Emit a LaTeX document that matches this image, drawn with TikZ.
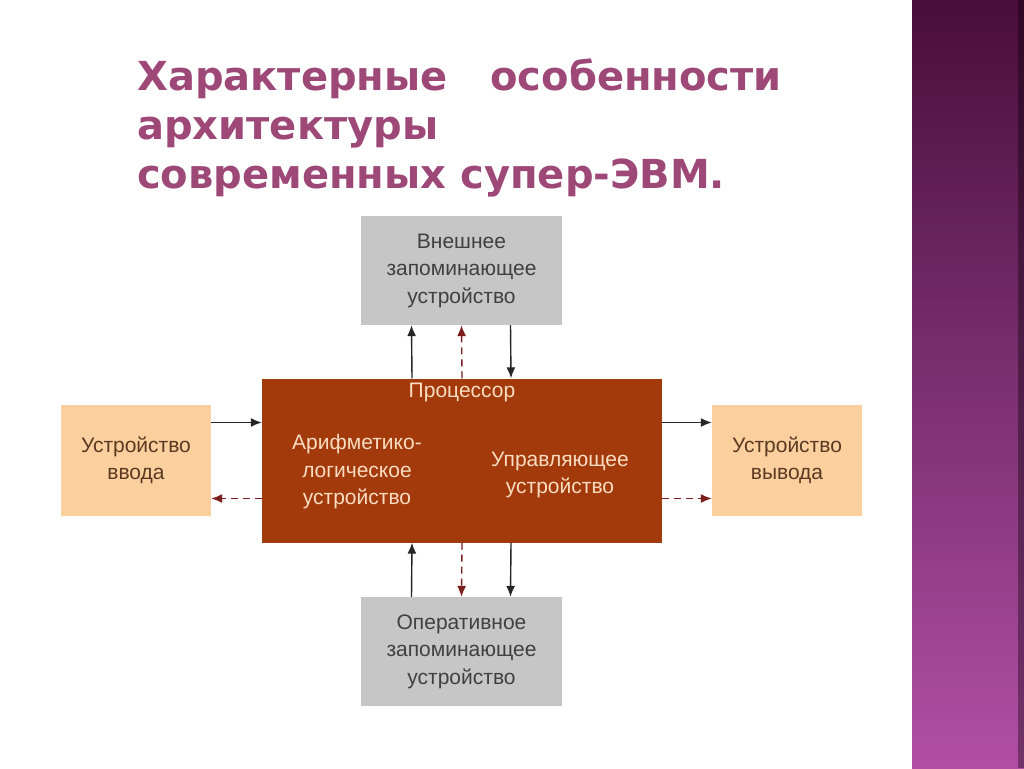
\documentclass[tikz,border=0pt]{standalone}
\usepackage{fontspec}
\setmainfont{Liberation Sans}
\newfontfamily\titlefont{DejaVu Sans}
\usetikzlibrary{arrows.meta}
\definecolor{titlecol}{HTML}{9E4878}
\definecolor{graybox}{HTML}{C6C6C6}
\definecolor{peach}{HTML}{FBCF9E}
\definecolor{procred}{HTML}{A33A0C}
\definecolor{proctext}{HTML}{FADCC0}
\definecolor{graytext}{HTML}{404040}
\definecolor{peachtext}{HTML}{5A3A22}
\definecolor{dashred}{HTML}{7A1E1E}
\definecolor{bartop}{HTML}{4A0D3B}
\definecolor{barmid}{HTML}{7A3070}
\definecolor{barbot}{HTML}{B24EA5}
\tikzset{
  box/.style={rectangle, inner sep=0pt, align=center, font=\fontsize{21}{27.5}\selectfont},
  graybx/.style={box, fill=graybox, text=graytext, minimum width=201pt, minimum height=109pt},
  peachbx/.style={box, fill=peach, text=peachtext, minimum width=150pt, minimum height=111pt},
  procbx/.style={box, fill=procred, minimum width=400pt, minimum height=164pt},
  proclabel/.style={inner sep=0pt, align=center, text=proctext, font=\fontsize{21}{27.5}\selectfont},
  titletext/.style={inner sep=0pt, text=titlecol, font=\titlefont\bfseries\fontsize{40}{50}\selectfont},
  arr/.style={draw=black!85, line width=1.4pt, -{Latex[length=11pt,width=9pt]}},
  darr/.style={draw=dashred, line width=1.4pt, dash pattern=on 7pt off 5pt, -{Latex[length=11pt,width=9pt]}},
}
\begin{document}
\begin{tikzpicture}[x=1pt,y=-1pt]
\useasboundingbox (0,0) rectangle (1024,768);
\fill[white] (0,0) rectangle (1024,768);
% purple bar
\shade[top color=bartop, bottom color=barbot, middle color=barmid] (912,0) rectangle (1024,768);
\fill[black, opacity=0.35] (1018,0) rectangle (1024,768);
% title
\node[titletext, anchor=base west] (t1a) at (137,90) {Характерные};
\node[titletext, anchor=base east] (t1b) at (782,90) {особенности};
\node[titletext, anchor=base west] (t2) at (137,139) {архитектуры};
\node[titletext, anchor=base west] (t3) at (137,188) {современных супер-ЭВМ.};
% boxes
\node[graybx] (ext) at (461.5,270.5) {Внешнее\\запоминающее\\устройство};
\node[procbx] (proc) at (462,460.5) {};
\node[peachbx] (in) at (136,460.5) {Устройство\\ввода};
\node[peachbx] (out) at (787,460.5) {Устройство\\вывода};
\node[graybx] (ram) at (461.5,651.5) {Оперативное\\запоминающее\\устройство};
% processor labels
\node[proclabel] (plab) at (462,392) {Процессор};
\node[proclabel] (alu) at (357,472) {Арифметико-\\логическое\\устройство};
\node[proclabel] (cu) at (560,475) {Управляющее\\устройство};
% top arrows
\draw[arr] ([xshift=-50pt]proc.north) -- ([xshift=-50pt]ext.south);
\draw[darr] (proc.north) -- (ext.south);
\draw[arr] ([xshift=49pt]ext.south) -- ([xshift=49pt]proc.north);
% bottom arrows
\draw[arr] ([xshift=-50pt]ram.north) -- ([xshift=-50pt]proc.south);
\draw[darr] (proc.south) -- (ram.north);
\draw[arr] ([xshift=49pt]proc.south) -- ([xshift=49pt]ram.north);
% left arrows
\draw[arr] ([yshift=38pt]in.east) -- ([yshift=38pt]proc.west);
\draw[darr] ([yshift=-38pt]proc.west) -- ([yshift=-38pt]in.east);
% right arrows
\draw[arr] ([yshift=38pt]proc.east) -- ([yshift=38pt]out.west);
\draw[darr] ([yshift=-38pt]proc.east) -- ([yshift=-38pt]out.west);
\end{tikzpicture}
\end{document}
